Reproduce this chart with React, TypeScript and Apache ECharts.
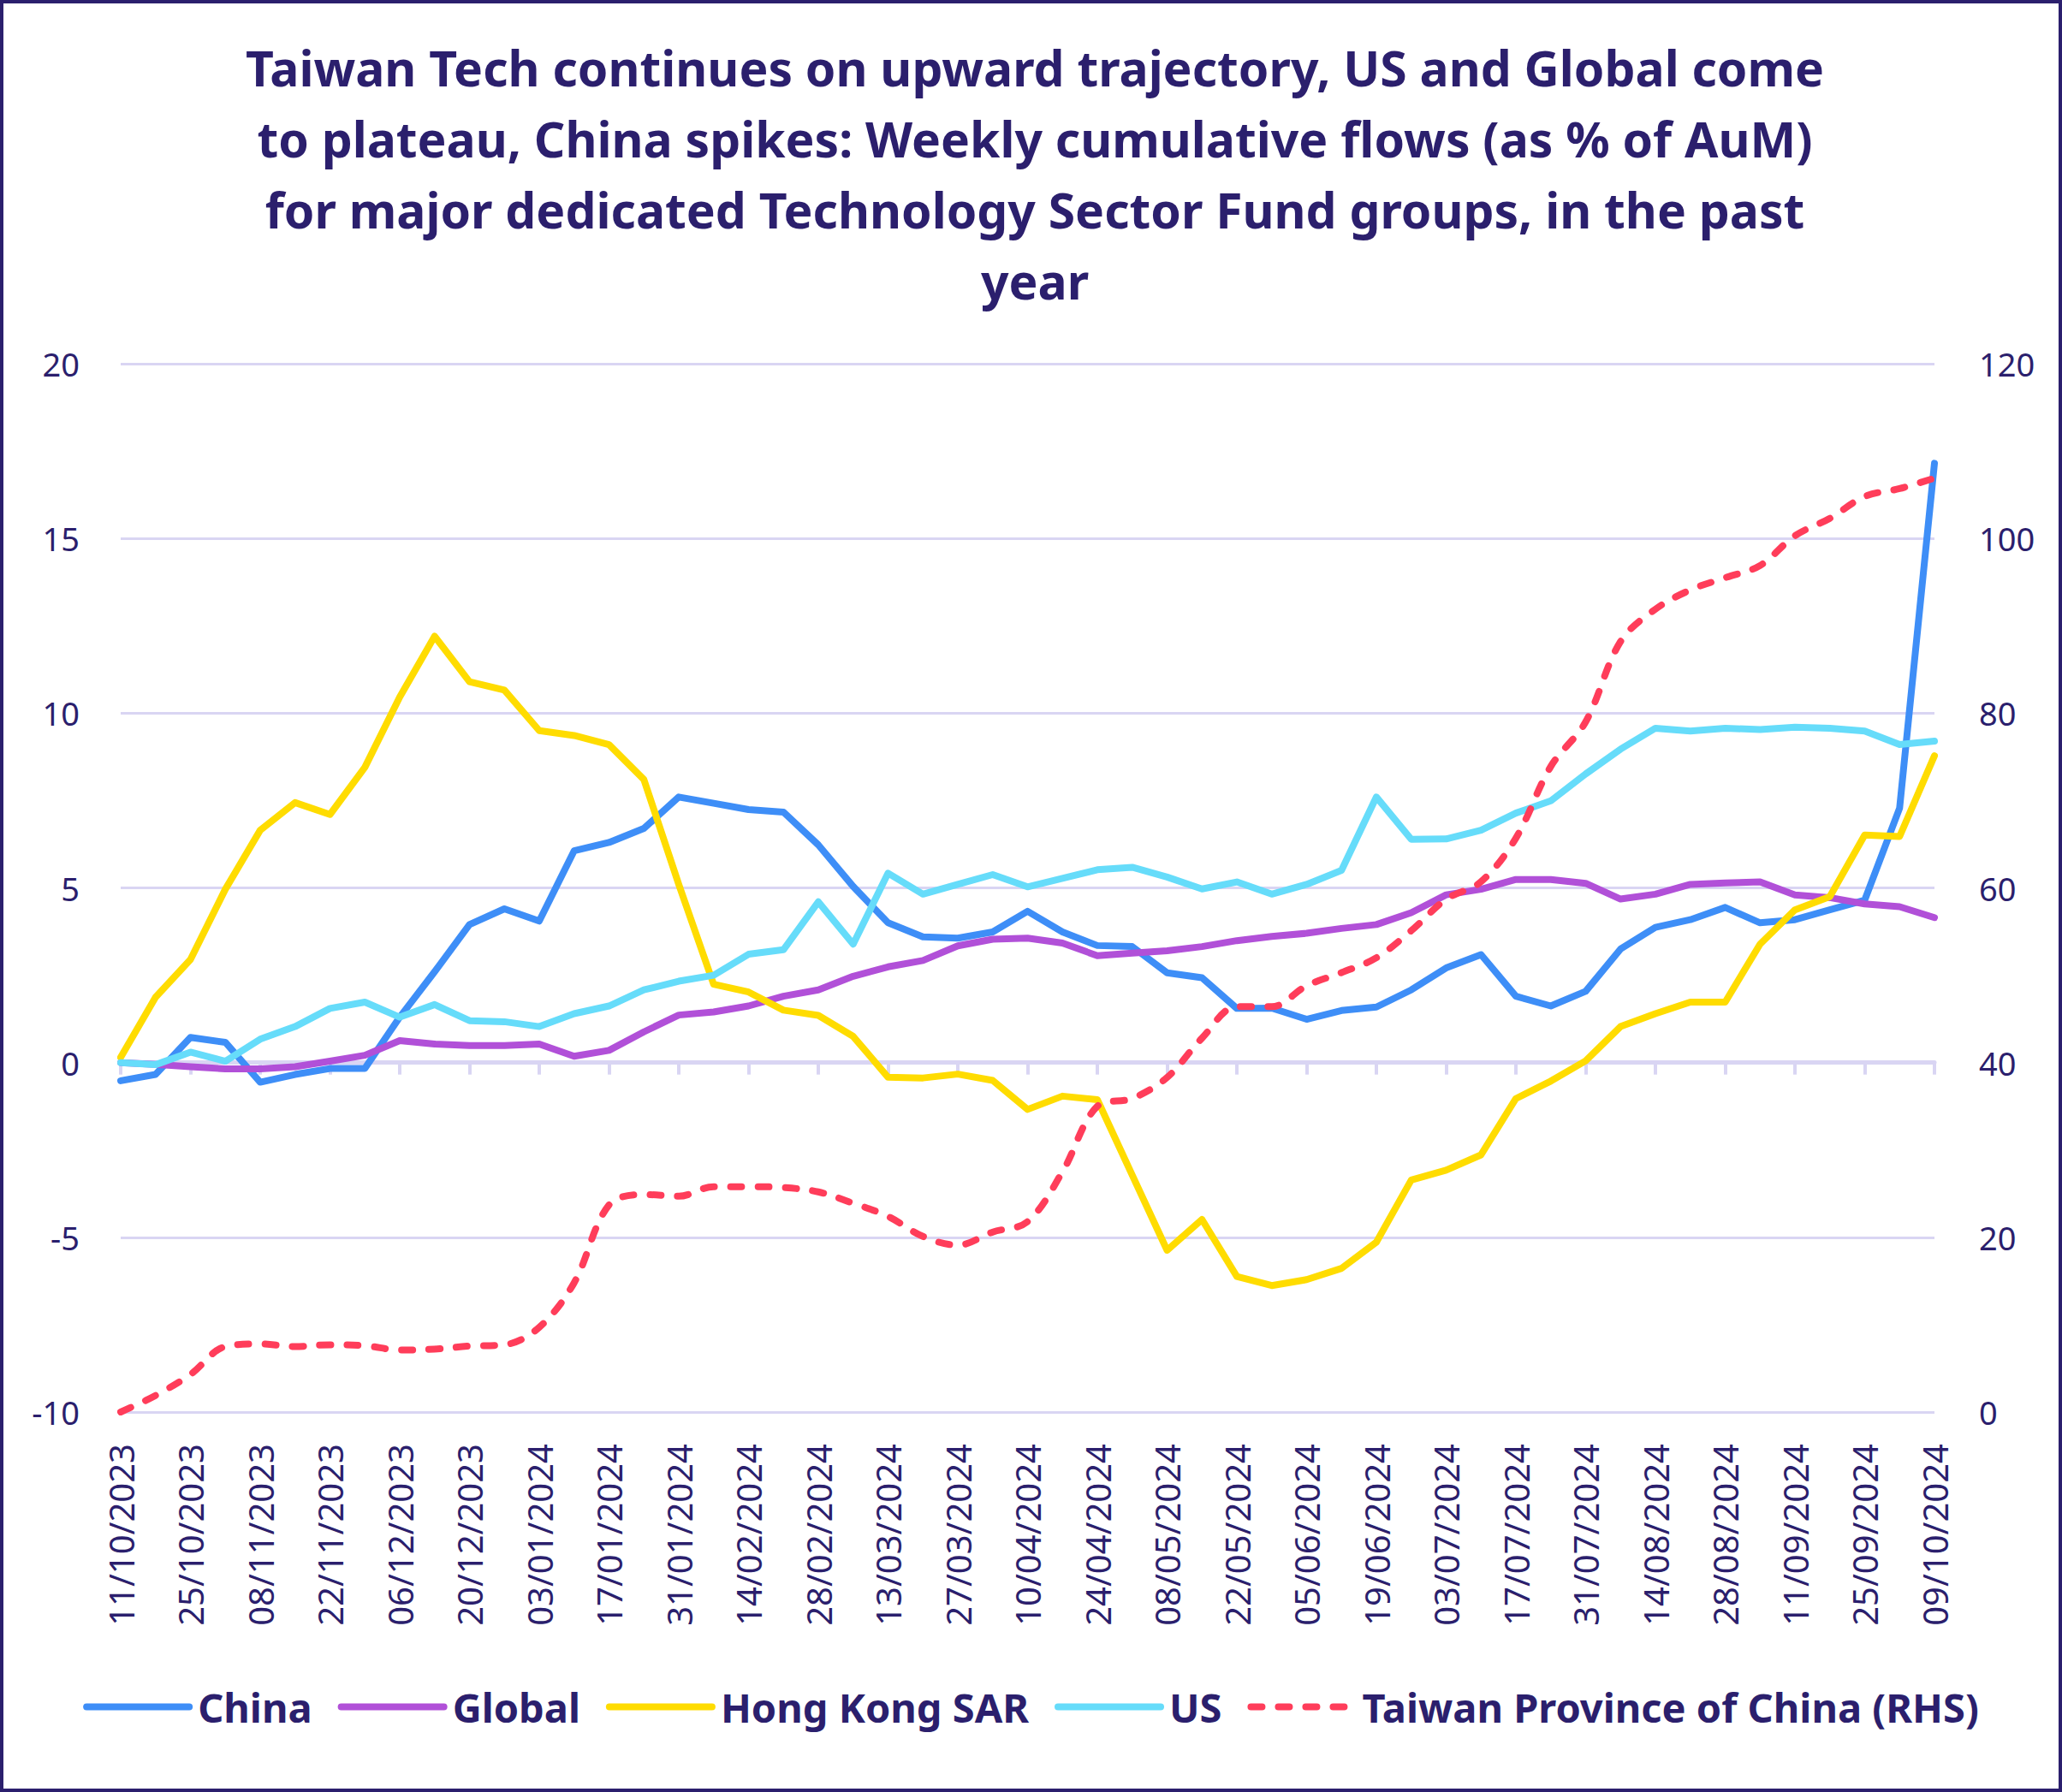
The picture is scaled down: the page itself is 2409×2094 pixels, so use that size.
import React, { useEffect, useRef } from "react";
import * as echarts from "echarts";

const dates = [
  "11/10/2023", "18/10/2023", "25/10/2023", "01/11/2023", "08/11/2023", "15/11/2023",
  "22/11/2023", "29/11/2023", "06/12/2023", "13/12/2023", "20/12/2023", "27/12/2023",
  "03/01/2024", "10/01/2024", "17/01/2024", "24/01/2024", "31/01/2024", "07/02/2024",
  "14/02/2024", "21/02/2024", "28/02/2024", "06/03/2024", "13/03/2024", "20/03/2024",
  "27/03/2024", "03/04/2024", "10/04/2024", "17/04/2024", "24/04/2024", "01/05/2024",
  "08/05/2024", "15/05/2024", "22/05/2024", "29/05/2024", "05/06/2024", "12/06/2024",
  "19/06/2024", "26/06/2024", "03/07/2024", "10/07/2024", "17/07/2024", "24/07/2024",
  "31/07/2024", "07/08/2024", "14/08/2024", "21/08/2024", "28/08/2024", "04/09/2024",
  "11/09/2024", "18/09/2024", "25/09/2024", "02/10/2024", "09/10/2024",
];

const china = [
  -0.52, -0.34, 0.72, 0.58, -0.56, -0.34, -0.17, -0.17, 1.3, 2.6, 3.95, 4.4, 4.05,
  6.06, 6.3, 6.7, 7.6, 7.42, 7.24, 7.17, 6.23, 5.04, 4.0, 3.6, 3.56, 3.74, 4.33,
  3.74, 3.35, 3.32, 2.57, 2.43, 1.55, 1.56, 1.24, 1.49, 1.59, 2.08, 2.71, 3.09,
  1.9, 1.62, 2.04, 3.25, 3.87, 4.09, 4.44, 4.0, 4.09, 4.37, 4.65, 7.28, 17.15,
];

const global = [
  0, -0.05, -0.12, -0.18, -0.18, -0.12, 0.04, 0.21, 0.63, 0.53, 0.49, 0.49, 0.53,
  0.18, 0.35, 0.88, 1.36, 1.45, 1.62, 1.9, 2.08, 2.47, 2.74, 2.92, 3.34, 3.53, 3.56,
  3.42, 3.06, 3.13, 3.2, 3.32, 3.49, 3.61, 3.7, 3.84, 3.95, 4.29, 4.8, 4.96, 5.24,
  5.24, 5.13, 4.68, 4.82, 5.1, 5.14, 5.17, 4.8, 4.72, 4.54, 4.46, 4.15,
];

const hongKong = [
  0.15, 1.87, 2.95, 4.96, 6.65, 7.44, 7.1, 8.45, 10.46, 12.2, 10.9, 10.66, 9.5,
  9.36, 9.1, 8.1, 5.1, 2.24, 2.02, 1.5, 1.35, 0.75, -0.42, -0.44, -0.33, -0.51,
  -1.34, -0.96, -1.06, -3.22, -5.37, -4.49, -6.12, -6.38, -6.21, -5.89, -5.14,
  -3.36, -3.08, -2.64, -1.03, -0.53, 0.05, 1.03, 1.4, 1.73, 1.73, 3.39, 4.37, 4.75,
  6.51, 6.47, 8.78,
];

const us = [
  0.0, -0.06, 0.3, 0.04, 0.67, 1.03, 1.55, 1.73, 1.3, 1.66, 1.2, 1.17, 1.03, 1.4,
  1.62, 2.08, 2.33, 2.5, 3.1, 3.23, 4.6, 3.39, 5.42, 4.82, 5.1, 5.38, 5.03, 5.27,
  5.52, 5.59, 5.31, 4.97, 5.17, 4.82, 5.1, 5.5, 7.6, 6.39, 6.4, 6.65, 7.14, 7.49,
  8.26, 8.97, 9.57, 9.49, 9.57, 9.53, 9.6, 9.57, 9.49, 9.1, 9.2,
];

const taiwan = [
  0, 1.9, 4.3, 7.5, 7.8, 7.5, 7.7, 7.6, 7.1, 7.2, 7.55, 7.7, 9.7, 14.8, 23.7, 24.9,
  24.7, 25.8, 25.8, 25.7, 25.2, 23.9, 22.4, 20.1, 19.1, 20.6, 21.8, 27.5, 35.0, 35.9,
  38.3, 42.8, 46.4, 46.4, 48.8, 50.3, 52.0, 55.1, 58.7, 60.7, 65.7, 73.9, 79.0, 88.2,
  91.9, 94.1, 95.5, 96.9, 100.3, 102.3, 104.8, 105.7, 106.9,
];

const titleText =
  "Taiwan Tech continues on upward trajectory, US and Global come\n" +
  "to plateau, China spikes: Weekly cumulative flows (as % of AuM)\n" +
  "for major dedicated Technology Sector Fund groups, in the past\n" +
  "year";

const NAVY = "#2b1f6d";
const GRID = "#d9d5f3";
const FONT = "'Noto Sans', sans-serif";

export default function App() {
  const ref = useRef<HTMLDivElement>(null);

  useEffect(() => {
    if (!ref.current) return;
    const chart = echarts.init(ref.current, null, { renderer: "svg" });
    const lineSeries = (name: string, data: number[], color: string) => ({
      name,
      type: "line",
      data,
      symbol: "none",
      xAxisIndex: 0,
      yAxisIndex: 0,
      lineStyle: { color, width: 8, cap: "round", join: "round" },
      itemStyle: { color },
    });
    chart.setOption({
      animation: false,
      backgroundColor: "#ffffff",
      title: {
        text: titleText,
        left: 1204,
        top: 32,
        textAlign: "center",
        textStyle: {
          color: NAVY,
          fontFamily: FONT,
          fontWeight: "bold",
          fontSize: 57,
          lineHeight: 83,
          align: "center",
        },
      },
      graphic: [
        {
          type: "rect",
          shape: { x: 2, y: 2, width: 2405, height: 2090 },
          style: { fill: "none", stroke: NAVY, lineWidth: 4 },
          silent: true,
        },
      ],
      legend: {
        left: "center",
        top: 1966,
        itemWidth: 120,
        itemHeight: 16,
        itemGap: 30,
        lineStyle: { width: 8, cap: "round" },
        itemStyle: { opacity: 0 },
        textStyle: {
          color: NAVY,
          fontFamily: FONT,
          fontWeight: "bold",
          fontSize: 47,
          padding: [0, 0, 0, 5],
        },
        data: ["China", "Global", "Hong Kong SAR", "US", "Taiwan Province of China (RHS)"],
      },
      grid: { left: 141, right: 149, top: 425, bottom: 444, containLabel: false },
      xAxis: [
        {
          type: "category",
          data: dates,
          boundaryGap: false,
          position: "bottom",
          axisLine: { show: false, onZero: false },
          axisTick: { show: false },
          axisLabel: {
            interval: 1,
            rotate: 90,
            margin: 37,
            color: NAVY,
            fontFamily: FONT,
            fontSize: 40,
          },
          splitLine: { show: false },
        },
        {
          type: "category",
          data: dates,
          boundaryGap: false,
          position: "bottom",
          axisLine: {
            show: true,
            onZero: true,
            onZeroAxisIndex: 0,
            lineStyle: { color: GRID, width: 5 },
          },
          axisTick: {
            show: true,
            interval: 1,
            length: 14,
            lineStyle: { color: GRID, width: 4 },
          },
          axisLabel: { show: false },
          splitLine: { show: false },
        },
      ],
      yAxis: [
        {
          type: "value",
          min: -10,
          max: 20,
          interval: 5,
          axisLine: { show: false },
          axisTick: { show: false },
          axisLabel: {
            margin: 48,
            color: NAVY,
            fontFamily: FONT,
            fontSize: 38,
          },
          splitLine: { show: true, lineStyle: { color: GRID, width: 3 } },
        },
        {
          type: "value",
          min: 0,
          max: 120,
          interval: 20,
          position: "right",
          axisLine: { show: false },
          axisTick: { show: false },
          axisLabel: {
            margin: 52,
            color: NAVY,
            fontFamily: FONT,
            fontSize: 38,
          },
          splitLine: { show: false },
        },
      ],
      series: [
        lineSeries("China", china, "#3e8ef7"),
        lineSeries("Global", global, "#b150d8"),
        lineSeries("Hong Kong SAR", hongKong, "#ffdc00"),
        lineSeries("US", us, "#66dcfa"),
        {
          name: "Taiwan Province of China (RHS)",
          type: "line",
          data: taiwan,
          symbol: "none",
          xAxisIndex: 0,
          yAxisIndex: 1,
          smooth: 0.35,
          lineStyle: { color: "#ff3d5a", width: 8, type: [13, 19], cap: "round", join: "round" },
          itemStyle: { color: "#ff3d5a" },
        },
      ],
    });
    return () => chart.dispose();
  }, []);

  return (
    <div
      ref={ref}
      style={{ position: "fixed", left: 0, top: 0, width: 2409, height: 2094, background: "#fff" }}
    />
  );
}
